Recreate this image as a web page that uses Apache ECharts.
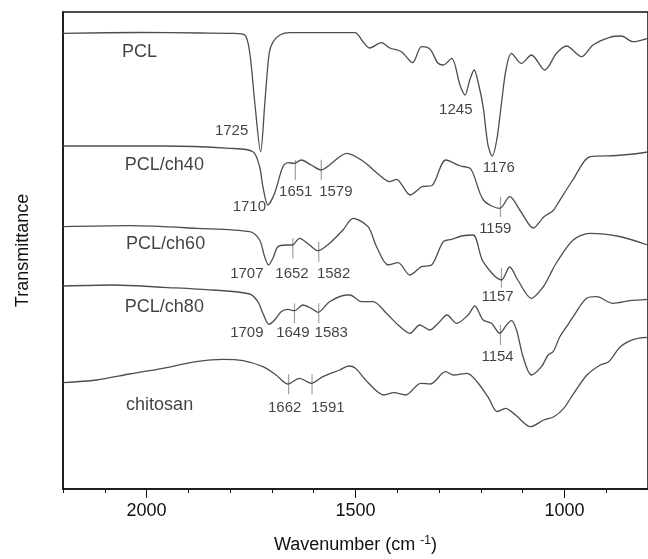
<!DOCTYPE html>
<html>
<head>
<meta charset="utf-8">
<title>FTIR spectra</title>
<script src="https://cdn.jsdelivr.net/npm/echarts@6/dist/echarts.min.js"></script>
<style>
  html, body { margin: 0; padding: 0; background: #fff; }
  #chart { width: 648px; height: 559px; }
</style>
</head>
<body>
<div id="chart"></div>
<script>
// wavenumber (cm-1), transmittance (arbitrary, curves offset)
var pcl = [
  [2200, 455.7], [2016, 456.5], [1872, 456], [1793, 455.7], [1765, 454], [1753, 436],
  [1741, 386], [1727, 337.3], [1717, 386], [1706.5, 436], [1697, 447.3], [1681, 454],
  [1657, 456.3], [1501.5, 456.3], [1482, 447.3], [1466, 441], [1438, 446.3], [1418, 441],
  [1390, 437.3], [1363.5, 426.3], [1342, 442.3], [1322, 440], [1303, 426], [1290, 424],
  [1270, 430.7], [1250, 404], [1238, 394], [1226.5, 409], [1216, 419], [1205, 404],
  [1194.6, 382.3], [1183, 344], [1173, 333], [1162, 349], [1150.6, 386], [1140, 419],
  [1127, 435.7], [1103, 425.7], [1079, 434], [1047, 419], [1019, 435.7], [995, 443],
  [959, 432.3], [931.5, 444], [891.6, 451.7], [863.6, 453], [836, 447.3], [801, 450.7]
];
var ch40 = [
  [2200, 343], [1961, 343], [1801, 340.7], [1745.5, 337.3], [1729.5, 322.3], [1721.6, 302.3],
  [1709.6, 284], [1693.6, 295.7], [1674, 322.3], [1662, 326.3], [1646, 325.7], [1630, 329],
  [1606, 324], [1582, 319], [1562, 324], [1538, 332.3], [1521, 335.7], [1480, 327.3],
  [1448, 315.7], [1418, 307.3], [1402, 309.7], [1369, 294], [1340.6, 302.3], [1317, 303.5],
  [1284, 329], [1249, 323], [1224, 320], [1194, 289], [1154.7, 280.7], [1131, 292.3],
  [1104.5, 277.5], [1074.6, 261], [1049, 272.3], [1028, 278], [1018, 284], [980, 309],
  [938, 332.3], [875, 333.5], [834, 335], [801, 337]
];
var ch60 = [
  [2200, 262.3], [2040.5, 263.3], [1881, 260.7], [1753, 257.3], [1729.5, 249], [1717.5, 232.3],
  [1708, 224], [1697.7, 230.7], [1685.7, 242.3], [1666, 244], [1651.5, 244], [1634, 250.7],
  [1610, 244], [1590, 238.3], [1562, 245.7], [1530, 259], [1505.6, 270.7], [1470, 262.3],
  [1449.6, 242.3], [1422, 224], [1398, 226.3], [1370, 214], [1342, 222.3], [1318, 224],
  [1290, 247.3], [1270, 249.7], [1246, 253], [1218.6, 254], [1194.6, 227.3], [1150.6, 209],
  [1131, 222], [1111.6, 209], [1079, 190.7], [1051, 202], [1035, 214], [1018, 227],
  [979, 249], [939, 255.7], [868, 252.5], [801, 244]
];
var ch80 = [
  [2200, 203], [2080, 204], [1961, 201.7], [1841, 199], [1753.4, 195], [1733.6, 187.3],
  [1721.6, 175.7], [1707, 164.7], [1693.6, 169], [1678, 177.3], [1662, 179.7], [1646, 178.3],
  [1626, 184], [1606, 180.7], [1590, 176.7], [1562, 187.3], [1522, 194], [1513.5, 194],
  [1485.5, 187.3], [1458, 187.3], [1426, 175.7], [1398, 164], [1370, 155.7], [1346, 164],
  [1322, 159], [1302, 165.7], [1281, 174], [1258, 165.7], [1230.5, 174], [1214.5, 183],
  [1194.6, 169], [1174.5, 165.7], [1154.7, 155.7], [1138.7, 164], [1127, 168.3], [1114.7, 159],
  [1099, 132.3], [1079, 114], [1055, 122.3], [1039, 134], [1027, 137.3], [1011, 152.3],
  [995, 162.3], [979, 172.3], [947, 190.7], [923, 192.3], [884, 185.7], [844, 188.3], [801, 189.7]
];
var chitosan = [
  [2200, 106.3], [2120, 109], [2040.5, 115], [1961, 120.7], [1881, 127.3], [1817, 129.7],
  [1769, 128.3], [1721.6, 122.3], [1690, 114], [1662, 105], [1634, 110.7], [1606, 105.7],
  [1578, 112.3], [1538, 119], [1516, 123], [1500, 120.7], [1472, 107.3], [1432, 94],
  [1408, 96.3], [1380, 94], [1344, 105.7], [1320.5, 105], [1284.6, 117.3], [1265, 114],
  [1233, 115.7], [1209, 107.3], [1181, 90.7], [1161, 77.3], [1141, 80.7], [1117, 74],
  [1081, 62.3], [1049.4, 69], [1025.5, 72.3], [1001.6, 80.7], [977.7, 95.7], [946, 114],
  [914, 124], [894, 127.3], [866, 142.3], [834, 149.7], [801, 151.7]
];

var curveNames = [
  ['PCL', 2059, 437], ['PCL/ch40', 2052, 323.5], ['PCL/ch60', 2049, 245],
  ['PCL/ch80', 2052, 182.3], ['chitosan', 2049, 84]
];
// peak labels: text, wavenumber, level
var peakLabels = [
  ['1725', 1796.5, 358.3], ['1245', 1260, 379], ['1176', 1157, 320.7],
  ['1710', 1754, 281.7], ['1651', 1643, 297.3], ['1579', 1547, 297.3], ['1159', 1165.5, 259.7],
  ['1707', 1760, 215], ['1652', 1652, 215], ['1582', 1552.5, 215], ['1157', 1160, 192.3],
  ['1709', 1760, 155.7], ['1649', 1650, 155.7], ['1583', 1558, 155.7], ['1154', 1160, 131.7],
  ['1662', 1669.5, 80.7], ['1591', 1566, 80.7]
];
// short vertical marks on the curves
var peakMarks = [
  [1644, 319], [1582, 319.3], [1153, 282],
  [1650, 240.7], [1588, 237.3], [1150.6, 211.3],
  [1646, 175.7], [1588, 175.7], [1153, 154],
  [1660, 104.8], [1604, 104.8]
];
var majorTicks = [2000, 1500, 1000];
var minorTicks = [2200, 2100, 2000, 1900, 1800, 1700, 1600, 1500, 1400, 1300, 1200, 1100, 1000, 900, 800];

var font = '"Liberation Sans", Arial, sans-serif';
var chart = echarts.init(document.getElementById('chart'));

function curve(data) {
  return {
    type: 'line', data: data, smooth: 0.3, symbol: 'none', silent: true,
    lineStyle: { color: '#4d4d4d', width: 1.3 }
  };
}

var option = {
  animation: false,
  grid: {
    left: 63, right: -2, top: 12, bottom: 70,
    show: true, borderColor: '#111', borderWidth: 1.5
  },
  xAxis: [
    {
      type: 'value', min: 800, max: 2200, inverse: true,
      splitLine: { show: false },
      axisLine: { lineStyle: { color: '#111', width: 1.5 } },
      axisTick: { customValues: minorTicks, length: 4, lineStyle: { color: '#111' } },
      axisLabel: {
        customValues: majorTicks, margin: 13, color: '#111',
        fontSize: 18, fontFamily: font,
        formatter: function (v) { return String(v); }
      },
      name: 'Wavenumber (cm {sup|-1})',
      nameLocation: 'middle', nameGap: 46,
      nameTextStyle: {
        fontSize: 18, fontFamily: font, color: '#111',
        rich: { sup: { fontSize: 12, fontFamily: font, color: '#111', verticalAlign: 'top', padding: [0, 0, 8, 0] } }
      }
    },
    {
      type: 'value', min: 800, max: 2200, inverse: true, position: 'bottom', offset: 0,
      splitLine: { show: false },
      axisLine: { show: false },
      axisTick: { customValues: majorTicks, length: 9, lineStyle: { color: '#111' } },
      axisLabel: { show: false }
    }
  ],
  yAxis: {
    type: 'value', min: 0, max: 477,
    splitLine: { show: false },
    axisLine: { show: true, lineStyle: { color: '#111', width: 1.5 } },
    axisTick: { show: false },
    axisLabel: { show: false },
    name: 'Transmittance', nameLocation: 'middle', nameGap: 31,
    nameTextStyle: { fontSize: 18, fontFamily: font, color: '#111' }
  },
  series: [
    curve(pcl), curve(ch40), curve(ch60), curve(ch80), curve(chitosan),
    {
      type: 'scatter', silent: true, symbol: 'rect', symbolSize: [1.2, 20],
      itemStyle: { color: '#888' },
      data: peakMarks
    },
    {
      type: 'scatter', silent: true, symbolSize: 0,
      data: peakLabels.map(function (p) { return { value: [p[1], p[2]], name: p[0] }; }),
      label: {
        show: true, position: 'inside', formatter: '{b}',
        fontSize: 15, fontFamily: font, color: '#111'
      }
    },
    {
      type: 'scatter', silent: true, symbolSize: 0,
      data: curveNames.map(function (p) { return { value: [p[1], p[2]], name: p[0] }; }),
      label: {
        show: true, position: 'right', distance: 0, formatter: '{b}',
        fontSize: 18, fontFamily: font, color: '#111'
      }
    }
  ]
};
chart.setOption(option);
</script>
</body>
</html>
